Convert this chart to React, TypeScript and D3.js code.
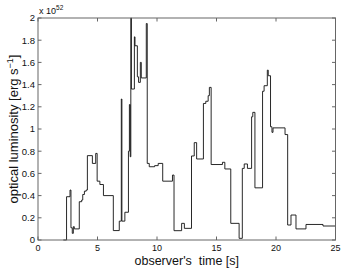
import * as d3 from 'd3'

const W = 343, H = 268
const M = { left: 38, right: 7.5, top: 18, bottom: 28 }

// observer's time [s] where each step begins, and luminosity (x 1e52) held until the next one
const times = [2.13, 2.4, 2.69, 2.77, 2.88, 2.97, 3.05, 3.47, 3.67, 3.76, 3.9, 4.05, 4.15, 4.57, 4.85, 4.97,
  5.2, 5.5, 6.33, 6.83, 7.0, 7.05, 7.3, 7.6, 7.68, 7.75, 7.8, 7.85, 8.1, 8.15, 8.35, 8.45, 8.6, 8.68,
  9.1, 9.18, 9.35, 9.8, 10.1, 10.48, 11.3, 11.43, 12.07, 12.3, 12.9, 13.13, 13.33, 13.9, 14.1, 14.3,
  14.4, 14.55, 15.5, 15.7, 16.2, 16.9, 17.17, 17.33, 17.6, 17.95, 18.05, 18.23, 18.87, 19.0, 19.27,
  19.35, 19.54, 19.66, 19.75, 20.76, 20.98, 21.26, 21.68, 22.52, 23.95, 25]
const lum = [0, 0.39, 0.45, 0.11, 0.06, 0.12, 0.1, 0.345, 0.36, 0.41, 0.44, 0.45, 0.76, 0.69, 0.78, 0.53,
  0.5, 0.4, 0.085, 0.17, 1.27, 0.17, 0.25, 0.8, 1.22, 0.75, 2.0, 1.36, 1.83, 1.75, 1.47, 1.42, 1.6, 1.46,
  1.95, 0.69, 0.66, 0.67, 0.69, 0.53, 0.585, 0.084, 0.15, 0.105, 0.757, 0.877, 0.73, 1.23, 1.25, 1.3,
  1.375, 0.68, 0.7, 0.64, 0.15, 0.015, 0.645, 0.685, 0.645, 1.11, 1.15, 0.47, 1.34, 1.39, 1.53,
  1.48, 1.02, 0.97, 1.01, 0.95, 0.135, 0.225, 0.1, 0.14, 0.126, 0.126]

const xTicks = [0, 5, 10, 15, 20, 25]
const yTicks = [0, 0.2, 0.4, 0.6, 0.8, 1, 1.2, 1.4, 1.6, 1.8, 2]

const FONT = 'Liberation Sans, Arial, Helvetica, sans-serif'

export default function App() {
  const x = d3.scaleLinear().domain([0, 25]).range([M.left, W - M.right])
  const y = d3.scaleLinear().domain([0, 2]).range([H - M.bottom, M.top])
  const pts: [number, number][] = times.map((t, i) => [t, lum[i]])
  const path = d3.line<[number, number]>()
    .x(d => x(d[0])).y(d => y(d[1]))
    .curve(d3.curveStepAfter)(pts) || ''

  const x0 = x(0), x1 = x(25), y0 = y(0), y1 = y(2)
  const TL = 3.5
  const axisCol = '#666'

  return (
    <svg width={W} height={H} style={{ position: 'absolute', left: 0, top: 0, background: '#fff' }}
      fontFamily={FONT}>
      <rect x={0} y={0} width={W} height={H} fill="#fff" />

      {/* ticks, inward on all four sides */}
      {xTicks.map(t => (
        <g key={'x' + t}>
          <line x1={x(t)} x2={x(t)} y1={y0} y2={y0 - TL} stroke={axisCol} />
          <line x1={x(t)} x2={x(t)} y1={y1} y2={y1 + TL} stroke={axisCol} />
          <text x={x(t)} y={y0 + 10.5} fontSize={9} textAnchor="middle" fill="#111">{t}</text>
        </g>
      ))}
      {yTicks.map(t => (
        <g key={'y' + t}>
          <line x1={x0} x2={x0 + TL} y1={y(t)} y2={y(t)} stroke={axisCol} />
          <line x1={x1} x2={x1 - TL} y1={y(t)} y2={y(t)} stroke={axisCol} />
          <text x={x0 - 3} y={y(t) + 3.3} fontSize={9.5} textAnchor="end" fill="#111">{String(+t.toFixed(1))}</text>
        </g>
      ))}

      {/* light curve */}
      <path d={path} fill="none" stroke="#111" strokeWidth={0.9} />

      {/* box */}
      <rect x={x0} y={y1} width={x1 - x0} height={y0 - y1} fill="none" stroke={axisCol} strokeWidth={1} />

      {/* exponent */}
      <text x={x0 + 1} y={y1 - 4} fontSize={9} fill="#111">
        x 10<tspan dy={-4} fontSize={6.5}>52</tspan>
      </text>

      {/* axis labels */}
      <text x={(x0 + x1) / 2} y={H - 3} fontSize={12.5} textAnchor="middle" fill="#111"
        style={{ whiteSpace: 'pre' }}>
        {"observer's  time [s]"}
      </text>
      <text transform={`translate(18,${(y0 + y1) / 2}) rotate(-90)`} fontSize={13} textAnchor="middle" fill="#111">
        optical luminosity [erg s<tspan dy={-5} fontSize={9}>−1</tspan><tspan dy={5}>]</tspan>
      </text>
    </svg>
  )
}
